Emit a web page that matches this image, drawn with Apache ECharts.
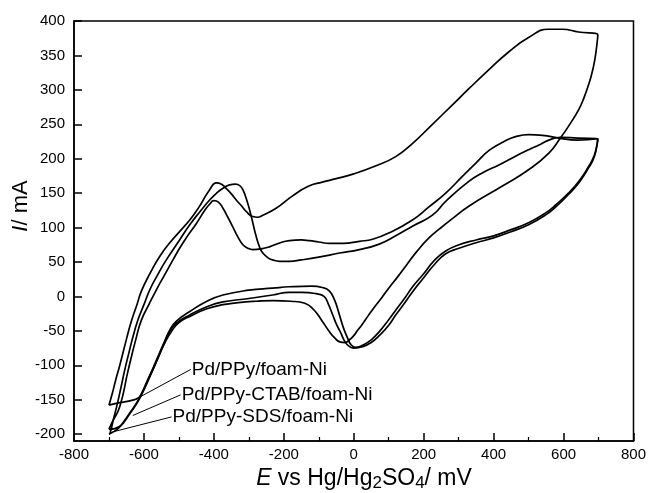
<!DOCTYPE html>
<html>
<head>
<meta charset="utf-8">
<script src="https://cdn.jsdelivr.net/npm/echarts@6/dist/echarts.min.js"></script>
<style>
  html, body { margin: 0; padding: 0; background: #fff; }
  #chart { width: 649px; height: 493px; }
</style>
</head>
<body>
<div id="chart"></div>
<script>
// tick labels on the y axis (axis itself runs a bit below -200)
const yTicks = [-200, -150, -100, -50, 0, 50, 100, 150, 200, 250, 300, 350, 400]

// Pd/PPy/foam-Ni : [E (mV), I (mA)]
const ppyForward = [
  [-700, -158], [-690, -140], [-680, -120], [-669, -100], [-650, -62], [-636, -36],
  [-620, -12], [-607, 8], [-580, 36], [-555, 58], [-526, 78], [-493, 97], [-469, 111],
  [-450, 124], [-436, 135], [-412, 155], [-393, 165], [-378, 163], [-365, 157],
  [-350, 149], [-336, 140], [-320, 131], [-307, 123], [-289, 116], [-275, 115],
  [-260, 118], [-222, 128], [-175, 146], [-130, 160], [-90, 166], [-50, 171], [0, 178],
  [60, 189], [120, 203], [170, 223], [225, 250], [280, 277], [330, 302], [386, 329],
  [443, 355], [500, 376], [557, 388], [596, 388], [643, 384], [698, 380]
]
const ppyReverse = [
  [698, 380], [694, 360], [688, 340], [680, 322], [672, 308], [658, 288], [643, 271],
  [614, 247], [591, 230], [558, 208], [500, 184], [424, 160], [329, 131], [282, 113],
  [245, 98], [215, 85], [180, 65], [150, 45], [125, 28], [100, 12], [80, -2], [60, -15],
  [40, -29], [25, -40], [10, -50], [0, -57], [-12, -63], [-25, -67], [-40, -66],
  [-55, -60], [-70, -51], [-90, -36], [-115, -19], [-140, -10], [-180, -7], [-230, -6],
  [-279, -7], [-330, -9], [-374, -12], [-420, -18], [-469, -29], [-500, -38],
  [-520, -50], [-540, -67], [-557, -86], [-574, -106], [-590, -124], [-605, -140],
  [-615, -147], [-635, -151], [-665, -154], [-700, -158]
]

// Pd/PPy-CTAB/foam-Ni
const ctabForward = [
  [-700, -193], [-690, -182], [-669, -160], [-645, -107], [-621, -58], [-607, -34],
  [-586, -12], [-564, 10], [-540, 32], [-517, 53], [-498, 70], [-479, 85], [-450, 106],
  [-425, 126], [-412, 134], [-400, 139], [-387, 137], [-374, 128], [-360, 115],
  [-346, 101], [-331, 86], [-317, 75], [-303, 70], [-289, 68], [-265, 69], [-241, 72],
  [-210, 78], [-184, 81], [-150, 82], [-127, 81], [-100, 79], [-70, 77], [-30, 77],
  [16, 80], [54, 83], [100, 92], [168, 111], [215, 130], [263, 150], [310, 174],
  [350, 194], [387, 212], [430, 225], [463, 232], [500, 235], [540, 234], [586, 230],
  [640, 227], [698, 229]
]
const ctabReverse = [
  [698, 229], [692, 210], [684, 198], [672, 187], [645, 166], [614, 148], [580, 131],
  [548, 118], [500, 104], [450, 94], [400, 85], [350, 78], [301, 70], [263, 62],
  [230, 46], [200, 27], [170, 8], [145, -10], [120, -27], [100, -42], [75, -56],
  [50, -67], [25, -73], [0, -75], [-12, -73], [-25, -66], [-38, -52], [-50, -40],
  [-60, -27], [-72, -12], [-85, 0], [-108, 4], [-150, 6], [-184, 6], [-232, 2],
  [-300, -3], [-374, -8], [-420, -15], [-469, -27], [-507, -39], [-525, -50],
  [-540, -66], [-557, -86], [-574, -106], [-590, -124], [-605, -141], [-620, -155],
  [-640, -170], [-670, -189], [-700, -193]
]

// Pd/PPy-SDS/foam-Ni
const sdsForward = [
  [-700, -200], [-697, -199], [-688, -180], [-678, -160], [-666, -133], [-655, -107],
  [-643, -82], [-631, -58], [-617, -34], [-600, -12], [-583, 10], [-560, 32],
  [-536, 53], [-498, 82], [-469, 104], [-440, 123], [-412, 140], [-392, 150],
  [-374, 157], [-355, 162], [-338, 163], [-326, 161], [-317, 155], [-303, 135],
  [-293, 116], [-279, 87], [-268, 70], [-260, 63], [-245, 56], [-232, 53], [-212, 51],
  [-184, 51], [-150, 53], [-100, 57], [-41, 63], [16, 68], [73, 76], [120, 88],
  [168, 102], [225, 118], [263, 138], [329, 167], [370, 180], [415, 191], [460, 203],
  [500, 213], [530, 220], [558, 227], [591, 231], [640, 230], [698, 229]
]
const sdsReverse = [
  [698, 229], [692, 212], [684, 200], [672, 189], [645, 168], [614, 150], [580, 134],
  [548, 121], [500, 107], [450, 97], [400, 88], [350, 82], [301, 75], [263, 66],
  [230, 52], [200, 33], [170, 15], [145, -3], [120, -20], [100, -34], [75, -50],
  [50, -63], [25, -71], [5, -74], [-8, -70], [-18, -60], [-30, -45], [-42, -25],
  [-55, -5], [-70, 8], [-90, 13], [-120, 15], [-184, 14], [-232, 12], [-300, 9],
  [-374, 2], [-420, -7], [-469, -22], [-507, -36], [-525, -48], [-540, -64],
  [-557, -84], [-574, -104], [-590, -122], [-605, -139], [-620, -154], [-640, -169],
  [-655, -180], [-670, -190], [-685, -196], [-700, -200]
]

// label leader lines: curve end first, text end last
const ppyPointer = [[-626, -150], [-466, -106]]
const ctabPointer = [[-632, -173], [-495, -143]]
const sdsPointer = [[-691, -197], [-521, -175]]

const FONT = 'Liberation Sans, Arial, Helvetica, sans-serif'

function loopSeries(name, forward, reverse) {
  return {
    name,
    type: 'line',
    data: forward.concat(reverse.slice(1)),
    showSymbol: false,
    smooth: 0.5,
    lineStyle: { color: '#000', width: 1.7 },
    z: 3
  }
}

function pointerSeries(name, pts) {
  return {
    name: name + ' label',
    type: 'line',
    data: pts,
    showSymbol: false,
    lineStyle: { color: '#000', width: 1 },
    endLabel: {
      show: true,
      formatter: name,
      distance: 1,
      color: '#000',
      fontSize: 19,
      fontFamily: FONT
    },
    z: 4
  }
}

const chart = echarts.init(document.getElementById('chart'))

chart.setOption({
  animation: false,
  backgroundColor: '#fff',
  grid: {
    left: 74, right: 14, top: 21, bottom: 52,
    show: true, borderColor: '#000', borderWidth: 1.5
  },
  xAxis: {
    type: 'value',
    min: -800, max: 800, interval: 200,
    axisLine: { show: true, onZero: false, lineStyle: { color: '#000', width: 1.5 } },
    axisTick: { inside: true, length: 8, lineStyle: { color: '#000', width: 1.5 } },
    minorTick: { show: true, splitNumber: 2, length: 4, lineStyle: { color: '#000', width: 1.2 } },
    splitLine: { show: false },
    axisLabel: { color: '#000', fontSize: 15, fontFamily: FONT, margin: 6 }
  },
  yAxis: {
    type: 'value',
    min: -210, max: 400,
    axisLine: { show: true, onZero: false, lineStyle: { color: '#000', width: 1.5 } },
    axisTick: { inside: true, length: 8, customValues: yTicks, lineStyle: { color: '#000', width: 1.5 } },
    splitLine: { show: false },
    axisLabel: { color: '#000', fontSize: 15, fontFamily: FONT, margin: 9, customValues: yTicks }
  },
  graphic: [
    {
      type: 'text',
      x: 364, y: 479,
      style: {
        text: '{i|E}{n| vs Hg/Hg}{s|2}{n|SO}{s|4}{n|/ mV}',
        align: 'center',
        verticalAlign: 'middle',
        fill: '#000',
        rich: {
          i: { fontSize: 23, fontStyle: 'italic', fontFamily: FONT, lineHeight: 26, fill: '#000' },
          n: { fontSize: 23, fontFamily: FONT, lineHeight: 26, fill: '#000' },
          s: { fontSize: 17, fontFamily: FONT, lineHeight: 12, verticalAlign: 'bottom', fill: '#000' }
        }
      }
    },
    {
      type: 'text',
      x: 21, y: 206,
      rotation: Math.PI / 2,
      style: {
        text: '{i|I}{n|/ mA}',
        align: 'center',
        verticalAlign: 'middle',
        fill: '#000',
        rich: {
          i: { fontSize: 22, fontStyle: 'italic', fontFamily: FONT, fill: '#000' },
          n: { fontSize: 22, fontFamily: FONT, fill: '#000' }
        }
      }
    }
  ],
  series: [
    loopSeries('Pd/PPy/foam-Ni', ppyForward, ppyReverse),
    loopSeries('Pd/PPy-CTAB/foam-Ni', ctabForward, ctabReverse),
    loopSeries('Pd/PPy-SDS/foam-Ni', sdsForward, sdsReverse),
    pointerSeries('Pd/PPy/foam-Ni', ppyPointer),
    pointerSeries('Pd/PPy-CTAB/foam-Ni', ctabPointer),
    pointerSeries('Pd/PPy-SDS/foam-Ni', sdsPointer)
  ]
})

window.addEventListener('resize', () => chart.resize())
</script>
</body>
</html>
